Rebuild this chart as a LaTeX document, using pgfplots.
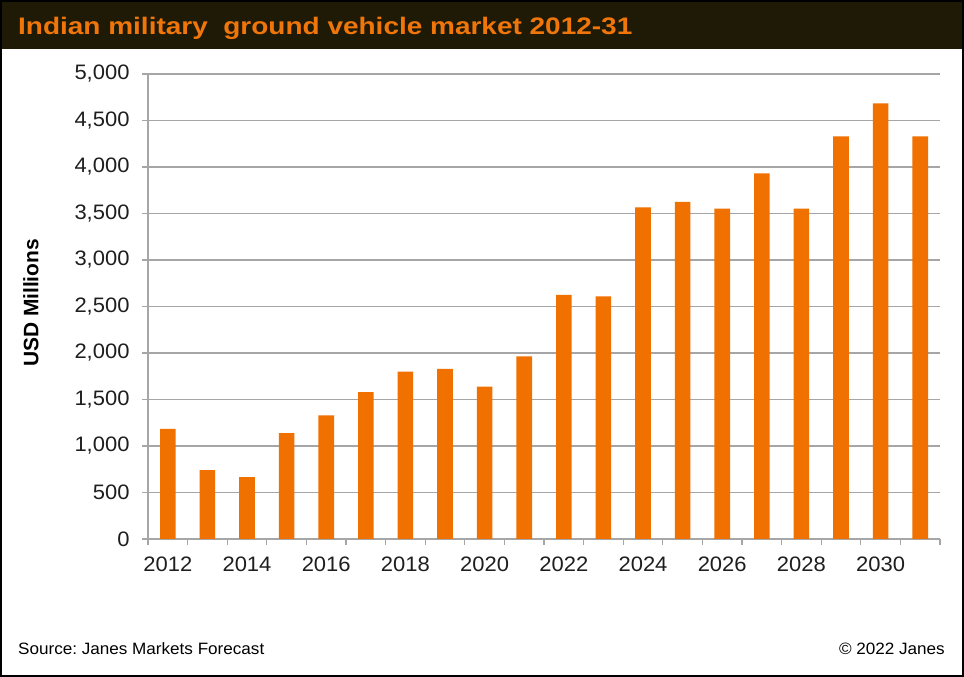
\documentclass[border=0pt]{standalone}
\usepackage{pgfplots}
\pgfplotsset{compat=1.18}
\usepackage{fontspec}
\setmainfont{Liberation Sans}
\newfontfamily\titlefont[FakeStretch=1.17]{Liberation Sans}
\newfontfamily\tickfont[FakeStretch=1.05]{Liberation Sans}
\newfontfamily\footfont[FakeStretch=1.04]{Liberation Sans}
\definecolor{barorange}{RGB}{240,112,0}
\definecolor{titleorange}{RGB}{240,118,10}
\definecolor{titlebg}{RGB}{30,26,6}
\definecolor{gridgray}{RGB}{166,166,166}
\definecolor{textgray}{RGB}{30,30,30}
\frenchspacing
\begin{document}
\begin{tikzpicture}[x=1bp,y=1bp]
\useasboundingbox (0,0) rectangle (964,677);
\fill[white] (0,0) rectangle (964,677);
\fill[titlebg] (0,628) rectangle (964,677);
\node[anchor=base west, text=titleorange, inner sep=0pt, font=\titlefont\bfseries\fontsize{24}{24}\selectfont] at (18,642) {Indian military\ \ ground vehicle market 2012-31};
\begin{axis}[
  at={(148bp,138bp)}, anchor=south west,
  scale only axis, width=792bp, height=465bp,
  xmin=-0.5, xmax=19.5, ymin=0, ymax=5000,
  axis x line*=bottom, axis y line*=left,
  axis line style={draw=gridgray, line width=1.2bp},
  xtick={0,2,...,18},
  xticklabels={2012,2014,2016,2018,2020,2022,2024,2026,2028,2030},
  minor xtick={-0.5,0.5,...,19.5},
  major x tick style={draw=none},
  minor x tick style={draw=gridgray, line width=1.2bp},
  ytick={0,500,...,5000},
  y tick style={draw=gridgray, line width=1.2bp},
  tick align=outside,
  major tick length=6bp, minor tick length=6bp,
  ymajorgrids,
  grid style={draw=gridgray, line width=1.4bp},
  /pgf/number format/assume math mode=true,
  /pgf/number format/1000 sep={,},
  scaled y ticks=false,
  tick label style={font=\tickfont\fontsize{21}{21}\selectfont, text=textgray},
  xticklabel style={yshift=-8bp},
  yticklabel style={xshift=-9bp},
  clip=false,
]
\addplot[ybar, bar width=15.6bp, fill=barorange, draw=none] coordinates {
 (0,1183) (1,740) (2,665) (3,1138) (4,1330) (5,1580) (6,1800) (7,1830)
 (8,1638) (9,1963) (10,2625) (11,2610) (12,3565) (13,3625) (14,3552)
 (15,3932) (16,3552) (17,4328) (18,4684) (19,4328)
};
\end{axis}
\node[rotate=90, font=\bfseries\fontsize{21}{21}\selectfont] at (31,374) {USD Millions};
\node[anchor=base west, inner sep=0pt, font=\footfont\fontsize{16.5}{16.5}\selectfont] at (18,22) {Source: Janes Markets Forecast};
\node[anchor=base east, inner sep=0pt, font=\footfont\fontsize{16.5}{16.5}\selectfont] at (945,22) {\textcopyright\ 2022 Janes};
\draw[black, line width=2bp] (1,1) rectangle (963,676);
\end{tikzpicture}
\end{document}
